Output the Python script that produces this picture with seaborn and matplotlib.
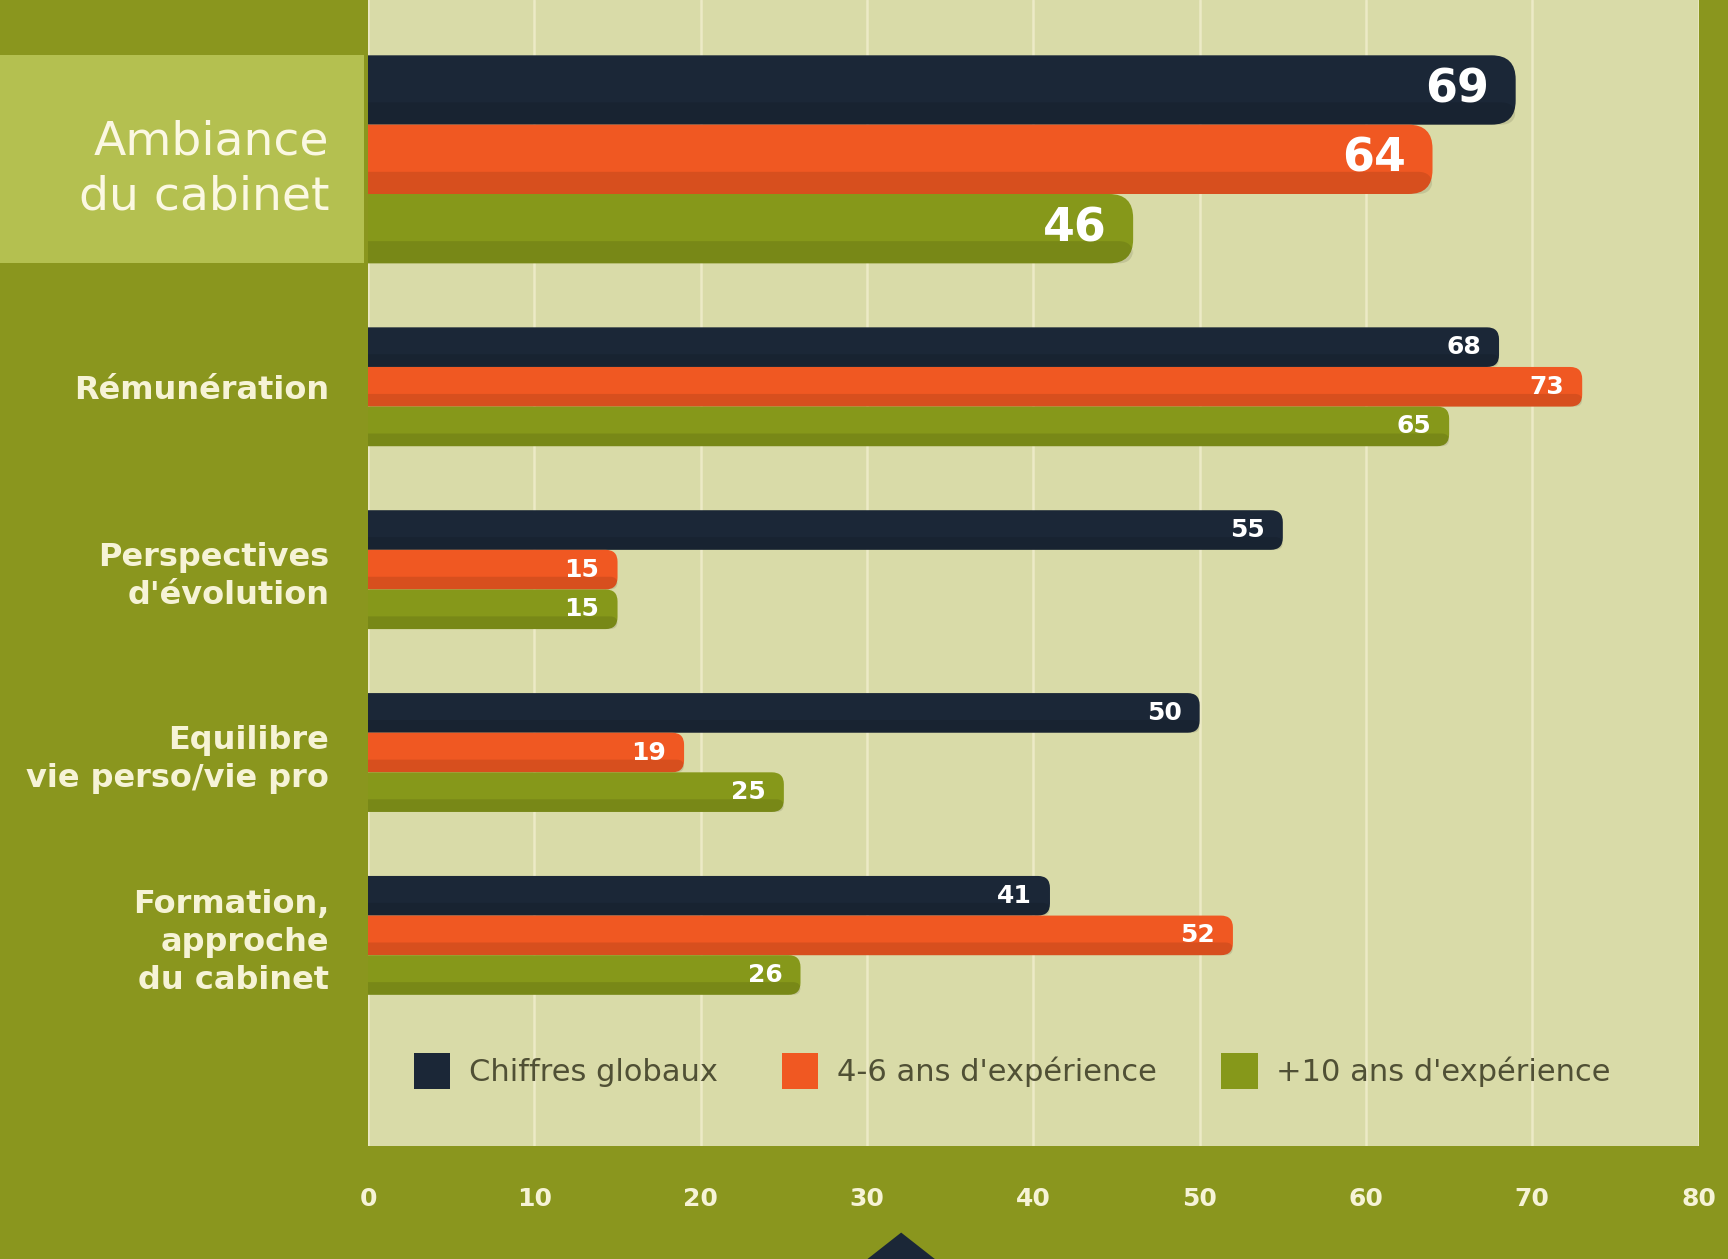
import numpy as np
import pandas as pd
import matplotlib
matplotlib.use('Agg')
import matplotlib.pyplot as plt
import matplotlib.transforms as mtransforms
from matplotlib.patches import FancyBboxPatch, Rectangle, Polygon
import seaborn as sns

# Data
categories = [
    "Ambiance\ndu cabinet",
    "Rémunération",
    "Perspectives\nd'évolution",
    "Equilibre\nvie perso/vie pro",
    "Formation,\napproche\ndu cabinet",
]
series = ["Chiffres globaux", "4-6 ans d'expérience", "+10 ans d'expérience"]
global_vals = [69, 68, 55, 50, 41]
mid_vals = [64, 73, 15, 19, 52]
senior_vals = [46, 65, 15, 25, 26]
x_ticks = [0, 10, 20, 30, 40, 50, 60, 70, 80]

# Colours
OLIVE = '#8a961e'
HILITE = '#b4c050'
BEIGE = '#d9dba8'
GRID = '#eceac6'
CREAM = '#f6f3d6'
colors = ['#1b2737', '#f05822', '#86981a']

df = pd.DataFrame({
    'category': categories * 3,
    'series': np.repeat(series, len(categories)),
    'value': global_vals + mid_vals + senior_vals,
})

sns.set_style('white')
plt.rcParams['font.family'] = ['DejaVu Sans']

fig = plt.figure(figsize=(17.28, 12.59), dpi=100)
fig.patch.set_facecolor(OLIVE)
ax = fig.add_axes([0.213, 0.09, 0.77, 0.91])
ax.set_facecolor(BEIGE)

group_w = 0.65
sns.barplot(data=df, x='value', y='category', hue='series', orient='h',
            order=categories, hue_order=series, palette=colors, saturation=1,
            width=group_w, ax=ax, legend=True)

# highlighted first category: thicker bars, pushed up to keep gaps equal
scale = 1.75
shift = (scale - 1) * group_w / 2
px_x = 1331 / 80.0      # pixels per x unit
px_y = 183.0            # pixels per category unit


def round_bar(x0, y0, w, h, color, radius_px):
    rx = radius_px / px_x
    p = FancyBboxPatch((x0 - 2, y0), w + 2, h,
                       boxstyle=f"round,pad=0,rounding_size={rx}",
                       mutation_aspect=px_x / px_y,
                       facecolor=color, edgecolor='none', zorder=3)
    ax.add_patch(p)
    # darker lower band for a bit of relief
    shade = FancyBboxPatch((x0 - 2, y0 + h * 0.68), w + 2, h * 0.32,
                           boxstyle=f"round,pad=0,rounding_size={rx * 0.6}",
                           mutation_aspect=px_x / px_y,
                           facecolor='black', alpha=0.10, edgecolor='none', zorder=3)
    ax.add_patch(shade)


for h_idx, cont in enumerate(ax.containers):
    for c_idx, bar in enumerate(cont):
        x0, y0 = bar.get_x(), bar.get_y()
        w, h = bar.get_width(), bar.get_height()
        bar.set_visible(False)
        if c_idx == 0:
            yc = y0 + h / 2
            yc = yc * scale - shift
            h = h * scale
            y0 = yc - h / 2
            round_bar(x0, y0, w, h, colors[h_idx], 24)
            ax.annotate(f"{w:g}", (w, yc), xytext=(-19, 0), textcoords='offset points',
                        ha='right', va='center', color='white', fontsize=33,
                        fontweight='bold', zorder=5)
        else:
            round_bar(x0, y0, w, h, colors[h_idx], 12)
            ax.annotate(f"{w:g}", (w, y0 + h / 2), xytext=(-13, 0), textcoords='offset points',
                        ha='right', va='center', color='white', fontsize=18,
                        fontweight='bold', zorder=5)

ax.set_xlim(0, 80)
ax.set_ylim(5.15, -1.115)
ax.set_xticks(x_ticks)
ax.set_xticklabels([str(t) for t in x_ticks], fontweight='bold')
ax.xaxis.grid(True, color=GRID, linewidth=1.8, zorder=0)
ax.set_axisbelow(True)
for s in ax.spines.values():
    s.set_visible(False)
ax.tick_params(axis='x', length=0, pad=30, labelsize=18, labelcolor=CREAM)
ax.tick_params(axis='y', length=0, pad=28, labelcolor=CREAM)
ax.set_xlabel('')
ax.set_ylabel('')

ytick_pos = list(range(len(categories)))
ytick_pos[0] = -shift
ax.set_yticks(ytick_pos)
ax.set_yticklabels(categories, ha='right', linespacing=1.3, fontweight='bold')
for i, lab in enumerate(ax.get_yticklabels()):
    if i == 0:
        lab.set_fontsize(34)
        lab.set_fontweight('normal')
        lab.set_color('#fbf8e2')
    else:
        lab.set_fontsize(23)
        lab.set_color(CREAM)

# highlight box behind the first label
top_big = -shift - group_w * scale / 2
trans = mtransforms.blended_transform_factory(fig.transFigure, ax.transData)
fig.patches.append(Rectangle((0, top_big), 0.2105, group_w * scale, transform=trans,
                             facecolor=HILITE, edgecolor='none', zorder=-1))

# legend
leg = ax.legend(loc='center', bbox_to_anchor=(0.484, 0.065), ncol=3, frameon=False,
                fontsize=22, handlelength=1.2, handleheight=1.45, columnspacing=2.1,
                handletextpad=0.6)
for t in leg.get_texts():
    t.set_color('#505035')
for hnd in leg.legend_handles:
    hnd.set_edgecolor('none')

# small pointer at the bottom
fig.patches.append(Polygon([[0.502, 0.0], [0.541, 0.0], [0.5215, 0.021]], closed=True,
                           transform=fig.transFigure, facecolor='#1b2737', edgecolor='none'))

fig.savefig('out.png', dpi=100, facecolor=fig.get_facecolor())
